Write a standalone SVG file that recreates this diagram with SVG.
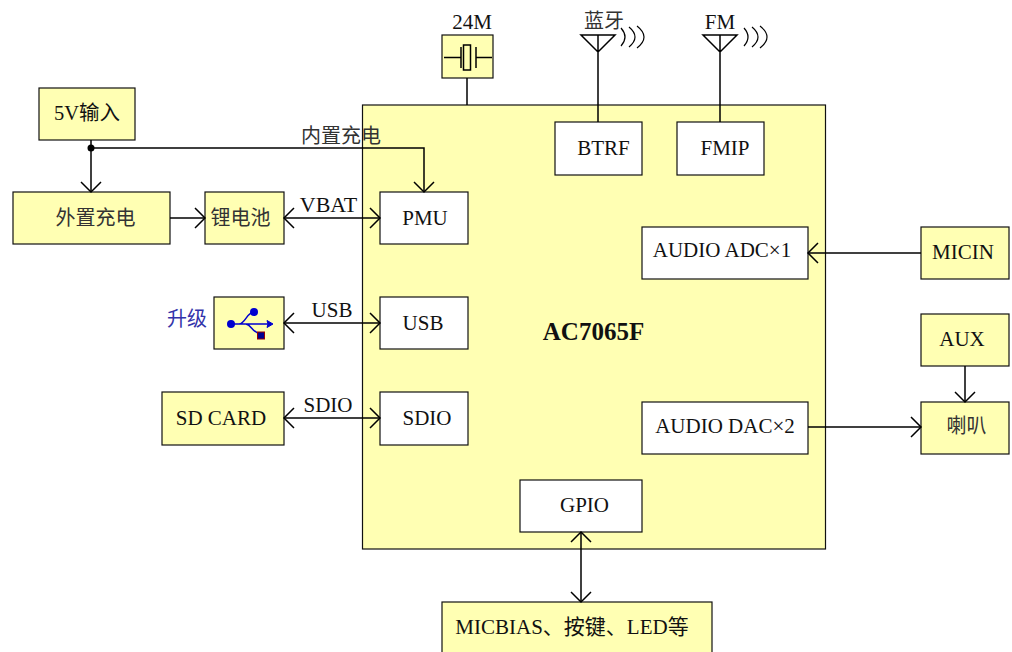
<svg xmlns="http://www.w3.org/2000/svg" width="1012" height="652" viewBox="0 0 1012 652">
<style>
.y{fill:#ffffb3;stroke:#111;stroke-width:1.2}
.w{fill:#fff;stroke:#111;stroke-width:1.2}
.l{fill:none;stroke:#000;stroke-width:1.5}
text{font-family:"Liberation Serif","Noto Sans CJK SC",serif;font-size:21px;fill:#111;text-anchor:middle}
.c{font-size:20px;fill:#333}
.s{fill:none;stroke:#000;stroke-width:1.2}
</style>
<defs>
<marker id="a" markerUnits="userSpaceOnUse" markerWidth="24" markerHeight="24" refX="11" refY="10" orient="auto-start-reverse" overflow="visible"><path d="M1 0L11 10L1 20" fill="none" stroke="#000" stroke-width="1.5"/></marker>
</defs>
<g id="chip"><rect class="y" x="362.5" y="105" width="463" height="444"/><text x="593.500" y="340" style="font-weight:bold;font-size:25px">AC7065F</text></g>
<g id="btrf"><rect class="w" x="555" y="122" width="87" height="53"/><text x="603.500" y="155">BTRF</text></g>
<g id="fmip"><rect class="w" x="677" y="122" width="87" height="53"/><text x="725" y="155">FMIP</text></g>
<g id="pmu"><rect class="w" x="380" y="192" width="88" height="52"/><text x="425" y="225">PMU</text></g>
<g id="usb"><rect class="w" x="380" y="297" width="88" height="52"/><text x="423" y="330">USB</text></g>
<g id="sdio"><rect class="w" x="380" y="392" width="88" height="53"/><text x="427" y="425">SDIO</text></g>
<g id="adc"><rect class="w" x="642" y="227" width="166" height="52"/><text x="722" y="257">AUDIO ADC×1</text></g>
<g id="dac"><rect class="w" x="642" y="402" width="166" height="52"/><text x="725" y="433">AUDIO DAC×2</text></g>
<g id="gpio"><rect class="w" x="520" y="480" width="122" height="52"/><text x="584.500" y="512">GPIO</text></g>
<g id="misc"><rect class="y" x="442" y="602" width="270" height="56"/><text x="572" y="634">MICBIAS、按键、LED等</text></g>
<g id="micin"><rect class="y" x="921" y="227" width="88" height="52"/><text x="963" y="259">MICIN</text></g>
<g id="aux"><rect class="y" x="921" y="314" width="88" height="52"/><text x="962" y="346">AUX</text></g>
<g id="speaker"><rect class="y" x="921" y="402" width="88" height="52"/><text x="966.500" y="433" class="c">喇叭</text></g>
<g id="input5v"><rect class="y" x="39" y="88" width="96" height="52"/><text x="87" y="120" style="font-size:20.500px">5V输入</text></g>
<g id="extcharge"><rect class="y" x="13" y="192" width="157" height="52"/><text x="95.500" y="225" class="c">外置充电</text></g>
<g id="battery"><rect class="y" x="205" y="192" width="79" height="52"/><text x="240.500" y="225" class="c">锂电池</text></g>
<g id="usbicon"><rect class="y" x="214" y="297" width="70" height="52"/>
<circle cx="231" cy="324" r="4" fill="#0000d0"/><circle cx="254" cy="312" r="4" fill="#0000d0"/>
<path d="M231 324H268M239 324C246 323 246 313 254 312M246 324C252 325 252 333 261 334" fill="none" stroke="#0000d0" stroke-width="1.5"/>
<path d="M267 320.500L268 324L267 327.500L273 324Z" fill="#0000d0" stroke="#0000d0"/>
<rect x="257.500" y="332" width="7" height="7" fill="#000090" stroke="#900"/></g>
<g id="sdcard"><rect class="y" x="162" y="392" width="122" height="53"/><text x="221" y="425">SD CARD</text></g>
<g id="crystal"><rect class="y" x="442" y="35" width="51" height="43"/>
<path class="l" d="M444 57.500H461M461 47V68M476 47V68M476 57.500H492"/><rect x="463.500" y="45" width="7" height="25" fill="none" stroke="#000" stroke-width="1.5"/></g>
<g id="antenna-bt"><path class="l" d="M581 35H615L598 52ZM598 35V122"/><path class="s" d="M621 28Q629 37 621 46M629 27Q641 37 629 47M637 26Q651 37 637 48"/></g>
<g id="antenna-fm"><path class="l" d="M703 35H737L720 52ZM720 35V122"/><path class="s" d="M744 28Q752 37 744 46M752 27Q764 37 752 47M760 26Q774 37 760 48"/></g>
<g id="labels">
<text x="472" y="29">24M</text><text x="604" y="28" class="c">蓝牙</text><text x="720" y="29">FM</text>
<text x="341" y="143" class="c">内置充电</text><text x="328.500" y="212" style="font-size:22px">VBAT</text><text x="332" y="317">USB</text><text x="328" y="412">SDIO</text>
<text x="187" y="326" style="fill:#3333aa;font-size:20px">升级</text>
</g>
<g id="connectors">
<path class="l" d="M467 78V105"/>
<circle cx="91" cy="148" r="3.500" fill="#000"/>
<path class="l" d="M91 140V192" marker-end="url(#a)"/>
<path class="l" d="M91 148H424V192" marker-end="url(#a)"/>
<path class="l" d="M170 218H205" marker-end="url(#a)"/>
<path class="l" d="M284 218H380" marker-start="url(#a)" marker-end="url(#a)"/>
<path class="l" d="M284 323H380" marker-start="url(#a)" marker-end="url(#a)"/>
<path class="l" d="M284 418H380" marker-start="url(#a)" marker-end="url(#a)"/>
<path class="l" d="M921 253H808" marker-end="url(#a)"/>
<path class="l" d="M808 427H921" marker-end="url(#a)"/>
<path class="l" d="M965 366V402" marker-end="url(#a)"/>
<path class="l" d="M581 532V602" marker-start="url(#a)" marker-end="url(#a)"/>
</g>
</svg>
